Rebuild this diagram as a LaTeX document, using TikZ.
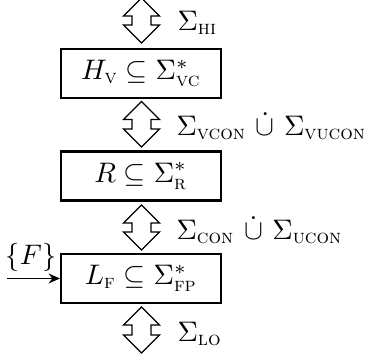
\documentclass[tikz,border=0pt]{standalone}
\usepackage{amsmath,amssymb}
\usetikzlibrary{arrows.meta}
\newcommand{\sub}[1]{\text{\textsc{#1}}}
\begin{document}
\begin{tikzpicture}[x=0.354pt,y=-0.354pt,
  levelbox/.style={draw,line width=0.75pt,minimum width=160*0.354pt,minimum height=49*0.354pt,inner sep=0pt},
  dblarrow/.style={draw,line width=0.4pt,line join=miter},
  lbl/.style={anchor=base west,inner sep=0pt}]
\useasboundingbox (0,0) rectangle (376,361);
% double arrows
\foreach \t/\b in {-2/43, 101.5/147, 205/250, 307/353}{
  \pgfmathsetmacro{\hA}{\t+18}
  \pgfmathsetmacro{\hB}{\b-18}
  \draw[dblarrow] (141.5,\t) -- (159.5,\hA) -- (151,\hA) -- (151,\hB) -- (159.5,\hB) -- (141.5,\b)
     -- (123.5,\hB) -- (132,\hB) -- (132,\hA) -- (123.5,\hA) -- cycle;
}
% boxes
\node[levelbox] (hv) at (141,73.5) {$H_{\sub{v}} \subseteq \Sigma^*_{\sub{vc}}$};
\node[levelbox] (r) at (141,176) {$R \subseteq \Sigma^*_{\sub{r}}$};
\node[levelbox] (lf) at (141,278.5) {$L_{\sub{f}} \subseteq \Sigma^*_{\sub{fp}}$};
% labels
\node[lbl] (l1) at (177,30) {$\Sigma_{\sub{hi}}$};
\node[lbl] (l2) at (176,135) {$\Sigma_{\sub{vcon}}\ \dot{\cup}\ \Sigma_{\sub{vucon}}$};
\node[lbl] (l3) at (176,239) {$\Sigma_{\sub{con}}\ \dot{\cup}\ \Sigma_{\sub{ucon}}$};
\node[lbl] (l4) at (177,341) {$\Sigma_{\sub{lo}}$};
% input
\node[anchor=base,inner sep=0pt] (f) at (31,264) {$\{F\}$};
\coordinate (fin) at (7,278.5);
\draw[line width=0.6pt,-{Stealth[length=4pt,width=3.5pt]}] (fin) -- (lf.west);
\end{tikzpicture}
\end{document}
